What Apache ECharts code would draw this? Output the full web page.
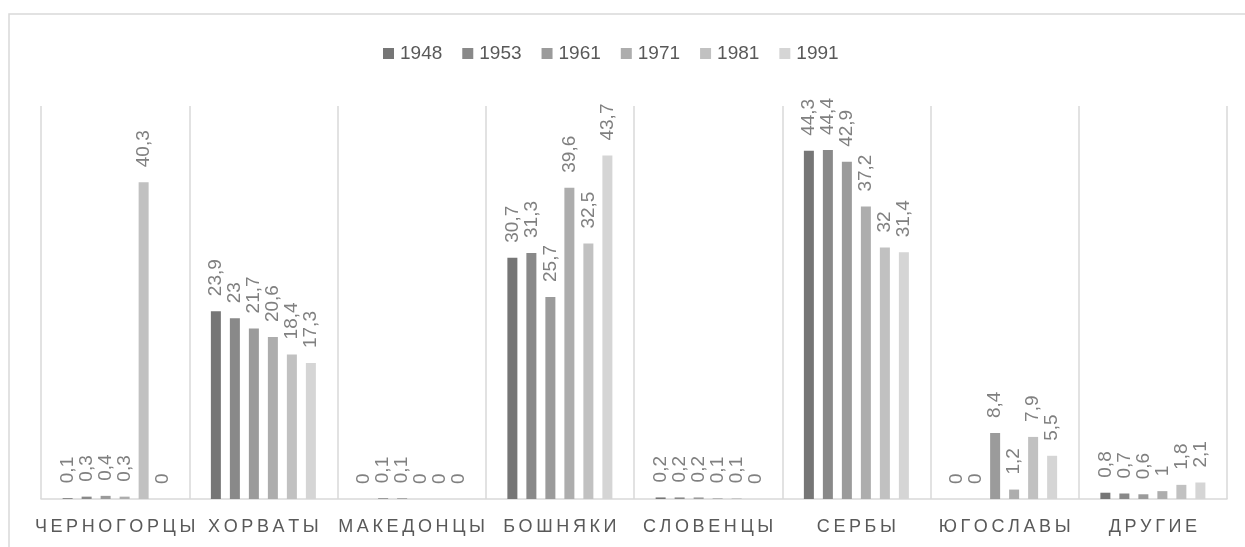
<!DOCTYPE html>
<html>
<head>
<meta charset="utf-8">
<script src="https://cdn.jsdelivr.net/npm/echarts@6/dist/echarts.min.js"></script>
<style>
html,body{margin:0;padding:0;background:#fff;}
#c{width:1245px;height:547px;}
</style>
</head>
<body>
<div id="c"></div>
<script>
const categories = ['ЧЕРНОГОРЦЫ','ХОРВАТЫ','МАКЕДОНЦЫ','БОШНЯКИ','СЛОВЕНЦЫ','СЕРБЫ','ЮГОСЛАВЫ','ДРУГИЕ'];
const years = ['1948','1953','1961','1971','1981','1991'];
const v1948 = [0.1, 23.9, 0,   30.7, 0.2, 44.3, 0,   0.8];
const v1953 = [0.3, 23,   0.1, 31.3, 0.2, 44.4, 0,   0.7];
const v1961 = [0.4, 21.7, 0.1, 25.7, 0.2, 42.9, 8.4, 0.6];
const v1971 = [0.3, 20.6, 0,   39.6, 0.1, 37.2, 1.2, 1];
const v1981 = [40.3,18.4, 0,   32.5, 0.1, 32,   7.9, 1.8];
const v1991 = [0,   17.3, 0,   43.7, 0,   31.4, 5.5, 2.1];
const seriesValues = [v1948, v1953, v1961, v1971, v1981, v1991];
const colors = ['#767676','#898989','#9b9b9b','#adadad','#c1c1c1','#d5d5d5'];

const FONT = '"Liberation Sans", Arial, sans-serif';
const chart = echarts.init(document.getElementById('c'));
chart.setOption({
  animation: false,
  backgroundColor: '#ffffff',
  graphic: [{
    type: 'rect', shape: {x: 9, y: 14, width: 1245, height: 600},
    style: {fill: 'none', stroke: '#d9d9d9', lineWidth: 1.5}, silent: true, z: -1
  }],
  legend: {
    left: 378, top: 39,
    itemWidth: 11, itemHeight: 11, itemGap: 20,
    icon: 'rect',
    textStyle: {fontFamily: FONT, fontSize: 19, color: '#595959', padding: [0,0,0,1]},
    data: years
  },
  grid: {left: 41, right: 18, top: 106, bottom: 48, containLabel: false},
  xAxis: {
    type: 'category', data: categories,
    axisLine: {lineStyle: {color: '#d9d9d9', width: 1.5}},
    axisTick: {show: false},
    splitLine: {show: true, interval: 0, lineStyle: {color: '#d9d9d9', width: 1.5}},
    axisLabel: {
      interval: 0, margin: 19, fontFamily: FONT, fontSize: 18, color: '#595959',
      formatter: v => v.split('').join('\u2009')
    }
  },
  yAxis: {type: 'value', min: 0, max: 50, show: false, splitLine: {show: false}},
  series: years.map((y, i) => ({
    name: y, type: 'bar', data: seriesValues[i],
    barWidth: 10, barGap: '90%',
    itemStyle: {color: colors[i]},
    label: {
      show: true, position: 'top', rotate: 90, align: 'left', verticalAlign: 'middle',
      distance: 15, fontFamily: FONT, fontSize: 19, color: '#808080',
      formatter: p => String(p.value).replace('.', ',')
    }
  }))
});
</script>
</body>
</html>
